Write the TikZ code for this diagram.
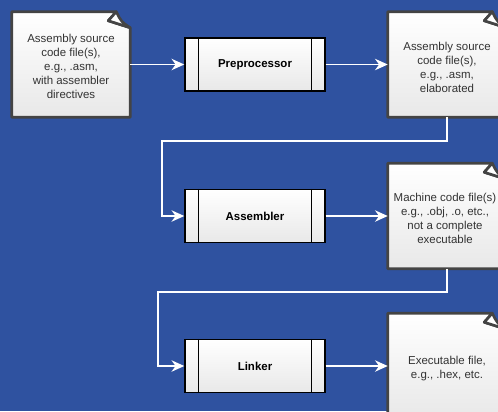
\documentclass[tikz,border=0pt]{standalone}
\usepackage{fontspec}
\setmainfont{Liberation Sans}
\usetikzlibrary{arrows.meta}
\definecolor{bgblue}{HTML}{2F52A0}
\definecolor{docedge}{HTML}{444444}
\definecolor{doctext}{HTML}{333333}
\definecolor{shadelow}{HTML}{E8E8E8}

% one unit = one pixel of the 498 x 411 canvas, y growing downwards
\tikzset{
  x=0.75pt, y=-0.75pt,
  base/.style={font=\fontsize{8.6pt}{10.5pt}\selectfont, align=center, inner sep=0pt},
  procbox/.style={base, draw=black, line width=1.1pt, top color=white, bottom color=shadelow,
    minimum width=105pt, minimum height=39.75pt, font=\fontsize{8.6pt}{10.5pt}\selectfont\bfseries},
  docbox/.style={base, text=doctext, minimum width=88.5pt, minimum height=78.75pt},
  flow/.style={draw=white, line width=1.2pt, -{Stealth[length=9.5pt, width=8.5pt, inset=3pt]}},
}

% page with a curled top-right corner, drawn over the named node #1
\newcommand\docshape[1]{%
  \path[draw=docedge, line width=2pt, top color=white, bottom color=shadelow, line join=round]
    (#1.north west) -- ([xshift=-14*0.75pt]#1.north east)
    -- ([xshift=-22*0.75pt, yshift=-9*0.75pt]#1.north east)
    -- ([yshift=-16*0.75pt]#1.north east) -- (#1.south east) -- (#1.south west) -- cycle;
  \path[draw=docedge, line width=2pt, fill=white, line join=round]
    ([xshift=-14*0.75pt]#1.north east)
    -- ([xshift=-22*0.75pt, yshift=-9*0.75pt]#1.north east)
    -- ([yshift=-16*0.75pt]#1.north east)
    .. controls ([xshift=-9*0.75pt, yshift=-10*0.75pt]#1.north east) .. cycle;
}
% inner bars of a predefined-process box
\newcommand\procbars[1]{%
  \draw[line width=1.1pt] ([xshift=14*0.75pt]#1.north west) -- ([xshift=14*0.75pt]#1.south west);
  \draw[line width=1.1pt] ([xshift=-14*0.75pt]#1.north east) -- ([xshift=-14*0.75pt]#1.south east);
}

\begin{document}
\begin{tikzpicture}
  \useasboundingbox (0,0) rectangle (498,411);
  \fill[bgblue] (0,0) rectangle (498,411);
  \begin{scope}
    \clip (0,0) rectangle (498,411);

    % nodes
    \node[docbox] (src) at (71,64.5) {};
    \node[procbox] (pre) at (255,64.5) {Preprocessor};
    \node[docbox] (elab) at (447,64.5) {};
    \node[procbox] (asm) at (255,216) {Assembler};
    \node[docbox] (obj) at (447,216) {};
    \node[procbox] (lnk) at (255,366) {Linker};
    \node[docbox] (exe) at (447,366) {};

    \docshape{src}\docshape{elab}\docshape{obj}\docshape{exe}
    \procbars{pre}\procbars{asm}\procbars{lnk}

    % document texts
    \node[base, text=doctext] (srct) at (71,66) {Assembly source\\code file(s),\\e.g., .asm,\\with assembler\\directives};
    \node[base, text=doctext] (elabt) at (447,67) {Assembly source\\code file(s),\\e.g., .asm,\\elaborated};
    \node[base, text=doctext] (objt) at (445,218) {Machine code file(s)\\e.g., .obj, .o, etc.,\\not a complete\\executable};
    \node[base, text=doctext] (exet) at (447,368.5) {Executable file,\\e.g., .hex, etc.};

    % bend points of the return connectors
    \coordinate (r1) at (162,141);
    \coordinate (r2) at (158,292);

    % connectors
    \draw[flow] (src.east) -- (pre.west);
    \draw[flow] (pre.east) -- (elab.west);
    \draw[flow] (elab.south) |- (r1) |- (asm.west);
    \draw[flow] (asm.east) -- (obj.west);
    \draw[flow] (obj.south) |- (r2) |- (lnk.west);
    \draw[flow] (lnk.east) -- (exe.west);
  \end{scope}
\end{tikzpicture}
\end{document}
